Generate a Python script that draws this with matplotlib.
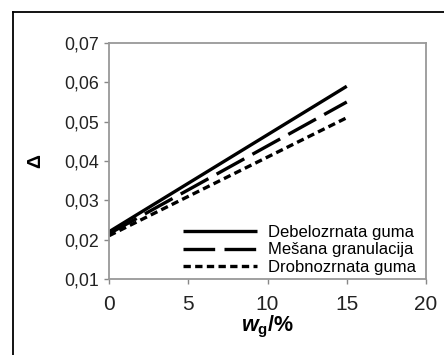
import matplotlib
matplotlib.use("Agg")
import matplotlib.pyplot as plt
from matplotlib.lines import Line2D

plt.rcParams['font.family'] = ['Liberation Sans', 'DejaVu Sans']
plt.rcParams['mathtext.fontset'] = 'custom'
plt.rcParams['mathtext.rm'] = 'Liberation Sans'
plt.rcParams['mathtext.bf'] = 'Liberation Sans:bold'
plt.rcParams['mathtext.it'] = 'Liberation Sans:italic'
plt.rcParams['mathtext.bfit'] = 'Liberation Sans:italic:bold'

# data
wg = [0, 15]
debelo = [0.022, 0.059]
mesana = [0.0215, 0.055]
drobno = [0.021, 0.051]
labels = ["Debelozrnata guma", "Mešana granulacija", "Drobnozrnata guma"]

xticks = [0, 5, 10, 15, 20]
yticks = [0.01, 0.02, 0.03, 0.04, 0.05, 0.06, 0.07]
ytick_labels = ["0,01", "0,02", "0,03", "0,04", "0,05", "0,06", "0,07"]

fig = plt.figure(figsize=(4.44, 3.55), dpi=100)
ax = fig.add_axes([0.2455, 0.2141, 0.714, 0.6648])

lw = 2.4
ax.plot(wg, debelo, color='black', lw=lw, solid_capstyle='butt', label=labels[0])
ax.plot(wg, mesana, color='black', lw=lw, dashes=(9.5, 2.8), label=labels[1])
ax.plot(wg, drobno, color='black', lw=lw, dashes=(2.2, 1.3), label=labels[2])

ax.set_xlim(0, 20)
ax.set_ylim(0.01, 0.07)
ax.set_xticks(xticks)
ax.set_xticklabels([str(t) for t in xticks], fontsize=15, color='#222222')
ax.set_yticks(yticks)
ax.set_yticklabels(ytick_labels, fontsize=12.8, color='#222222')
ax.tick_params(axis='both', direction='out', length=3.5, width=1, color='#888888')
ax.tick_params(axis='x', pad=8)
ax.tick_params(axis='y', pad=4)
for s in ax.spines.values():
    s.set_color('#999999')
    s.set_linewidth(1.3)

ax.set_ylabel('Δ', fontsize=14, fontweight='bold', labelpad=14)
ax.set_xlabel(r'$\mathbfit{w}_{\mathbf{g}}\mathbf{/\%}$', fontsize=15.5, labelpad=0)

ax.legend(loc='lower right', bbox_to_anchor=(0.975, 0.01), frameon=False,
          fontsize=12, handlelength=4.4, handletextpad=0.7, labelspacing=0.15,
          borderaxespad=0.0, borderpad=0.1)

# outer frame of the figure box
fig.add_artist(Line2D([0.0293, 1.0], [0.966, 0.966], color='black', lw=1.3,
                      transform=fig.transFigure))
fig.add_artist(Line2D([0.0293, 0.0293], [0.0, 0.966], color='black', lw=1.3,
                      transform=fig.transFigure))

fig.savefig('out.png', dpi=100)
